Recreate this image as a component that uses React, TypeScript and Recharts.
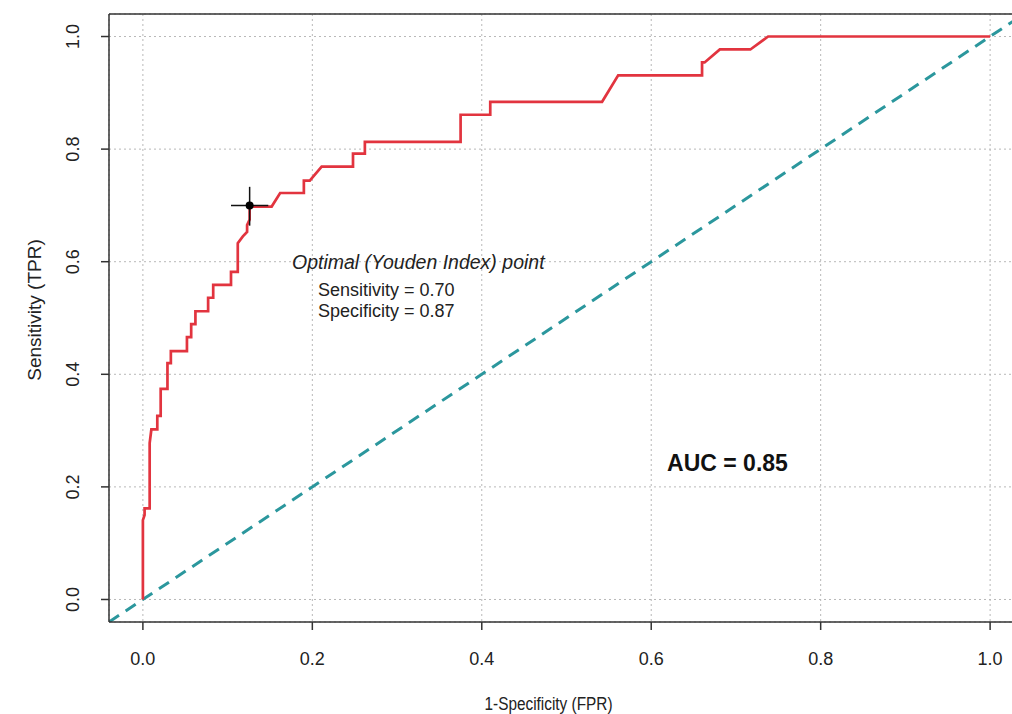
import { CartesianGrid, Label, Line, LineChart, ReferenceDot, ReferenceLine, XAxis, YAxis } from 'recharts';

// ROC curve (1 - specificity vs sensitivity)
const rocFpr = [
  0, 0, 0.002, 0.002, 0.008, 0.008, 0.01, 0.017, 0.017, 0.021, 0.021, 0.029, 0.029, 0.033, 0.033,
  0.052, 0.052, 0.057, 0.057, 0.062, 0.062, 0.077, 0.077, 0.083, 0.083, 0.104, 0.104, 0.112, 0.112,
  0.118, 0.123, 0.123, 0.126, 0.126, 0.152, 0.162, 0.19, 0.19, 0.197, 0.211, 0.248, 0.248, 0.262,
  0.262, 0.375, 0.375, 0.41, 0.41, 0.542, 0.561, 0.66, 0.66, 0.663, 0.681, 0.717, 0.738, 1.0,
];
const rocTpr = [
  0, 0.141, 0.15, 0.162, 0.162, 0.278, 0.302, 0.302, 0.326, 0.326, 0.374, 0.374, 0.42, 0.42, 0.441,
  0.441, 0.466, 0.466, 0.489, 0.489, 0.512, 0.512, 0.536, 0.536, 0.559, 0.559, 0.582, 0.582, 0.633,
  0.645, 0.653, 0.665, 0.675, 0.698, 0.698, 0.722, 0.722, 0.744, 0.744, 0.769, 0.769, 0.792, 0.792,
  0.813, 0.813, 0.861, 0.861, 0.884, 0.884, 0.931, 0.931, 0.954, 0.954, 0.977, 0.977, 1.0, 1.0,
];

// chance line, drawn across the whole plot region like abline(0, 1)
const chanceFpr = [-0.04, 1.04];
const chanceTpr = [-0.04, 1.04];

const axisTicks = [0, 0.2, 0.4, 0.6, 0.8, 1.0];
const axisDomain = [-0.04, 1.04];

// Youden point and its cross
const optimalFpr = 0.126;
const optimalTpr = 0.7;
const crossFpr = [0.104, 0.148];
const crossTpr = [0.664, 0.733];

const optimalTitle = 'Optimal (Youden Index) point';
const optimalLines = ['Sensitivity = 0.70', 'Specificity = 0.87'];
const aucLabel = 'AUC = 0.85';

const rocData = rocFpr.map((fpr, i) => ({ fpr, tpr: rocTpr[i] }));
const chanceData = chanceFpr.map((fpr, i) => ({ fpr, tpr: chanceTpr[i] }));

const FONT = '"Liberation Sans", Arial, sans-serif';

function XTick({ x, y, payload }: any) {
  return (
    <text x={x} y={y} dy="0.71em" textAnchor="middle" fontFamily={FONT} fontSize={18} fill="#222">
      {payload.value.toFixed(1)}
    </text>
  );
}

function YTick({ x, y, payload }: any) {
  return (
    <text x={x} y={y} transform={`rotate(-90, ${x}, ${y})`} textAnchor="middle" fontFamily={FONT} fontSize={18} fill="#222">
      {payload.value.toFixed(1)}
    </text>
  );
}

export default function App() {
  return (
    <div style={{ position: 'absolute', left: 0, top: 0, width: 1012, height: 714, overflow: 'hidden', background: '#fff' }}>
      <LineChart width={1040} height={714} margin={{ top: 14, right: 16, left: 0, bottom: 0 }}>
        <CartesianGrid stroke="#b8b8b8" strokeDasharray="2 3" />
        <XAxis
          type="number"
          dataKey="fpr"
          domain={axisDomain}
          ticks={axisTicks}
          allowDataOverflow
          height={92}
          tickSize={8}
          tickMargin={22}
          stroke="#333"
          strokeWidth={1.5}
          tick={<XTick />}
        >
          <Label
            content={({ viewBox }: any) => (
              <text
                x={viewBox.x + viewBox.width / 2 - 18}
                y={viewBox.y + 88}
                textAnchor="middle"
                textLength={128}
                lengthAdjust="spacingAndGlyphs"
                fontFamily={FONT}
                fontSize={18}
                fill="#222"
              >
                1-Specificity (FPR)
              </text>
            )}
          />
        </XAxis>
        <YAxis
          type="number"
          dataKey="tpr"
          domain={axisDomain}
          ticks={axisTicks}
          allowDataOverflow
          width={109}
          tickSize={8}
          tickMargin={22}
          stroke="#333"
          strokeWidth={1.5}
          tick={<YTick />}
        >
          <Label
            content={({ viewBox }: any) => {
              const cx = 41;
              const cy = viewBox.y + viewBox.height / 2 - 8;
              return (
                <text x={cx} y={cy} transform={`rotate(-90, ${cx}, ${cy})`} textAnchor="middle" fontFamily={FONT} fontSize={19} fill="#222">
                  Sensitivity (TPR)
                </text>
              );
            }}
          />
        </YAxis>
        <ReferenceLine y={axisDomain[1]} stroke="#333" strokeWidth={1.5} />
        <ReferenceLine x={axisDomain[1]} stroke="#333" strokeWidth={1.5} />
        <Line
          data={chanceData}
          dataKey="tpr"
          type="linear"
          stroke="#2b979d"
          strokeWidth={3}
          strokeDasharray="12 8"
          dot={false}
          isAnimationActive={false}
        />
        <Line
          data={rocData}
          dataKey="tpr"
          type="linear"
          stroke="#e2343f"
          strokeWidth={2.7}
          dot={false}
          isAnimationActive={false}
        />
        <ReferenceLine
          segment={[{ x: crossFpr[0], y: optimalTpr }, { x: crossFpr[1], y: optimalTpr }]}
          stroke="#111"
          strokeWidth={1.5}
        />
        <ReferenceLine
          segment={[{ x: optimalFpr, y: crossTpr[0] }, { x: optimalFpr, y: crossTpr[1] }]}
          stroke="#111"
          strokeWidth={1.5}
        />
        <ReferenceDot x={optimalFpr} y={optimalTpr} r={4} fill="#000" stroke="none" />
        <ReferenceDot
          x={0.176}
          y={0.6}
          r={0}
          fill="none"
          stroke="none"
          label={({ viewBox }: any) => (
            <g fontFamily={FONT} fill="#222">
              <text x={viewBox.x} y={viewBox.y + 7} fontSize={19.5} fontStyle="italic">
                {optimalTitle}
              </text>
              {optimalLines.map((t, i) => (
                <text key={t} x={viewBox.x + 26} y={viewBox.y + 34 + i * 21} fontSize={18}>
                  {t}
                </text>
              ))}
            </g>
          )}
        />
        <ReferenceDot
          x={0.69}
          y={0.242}
          r={0}
          fill="none"
          stroke="none"
          label={({ viewBox }: any) => (
            <text x={viewBox.x} y={viewBox.y + 8} textAnchor="middle" fontFamily={FONT} fontSize={23} fontWeight="bold" fill="#111">
              {aucLabel}
            </text>
          )}
        />
      </LineChart>
    </div>
  );
}
